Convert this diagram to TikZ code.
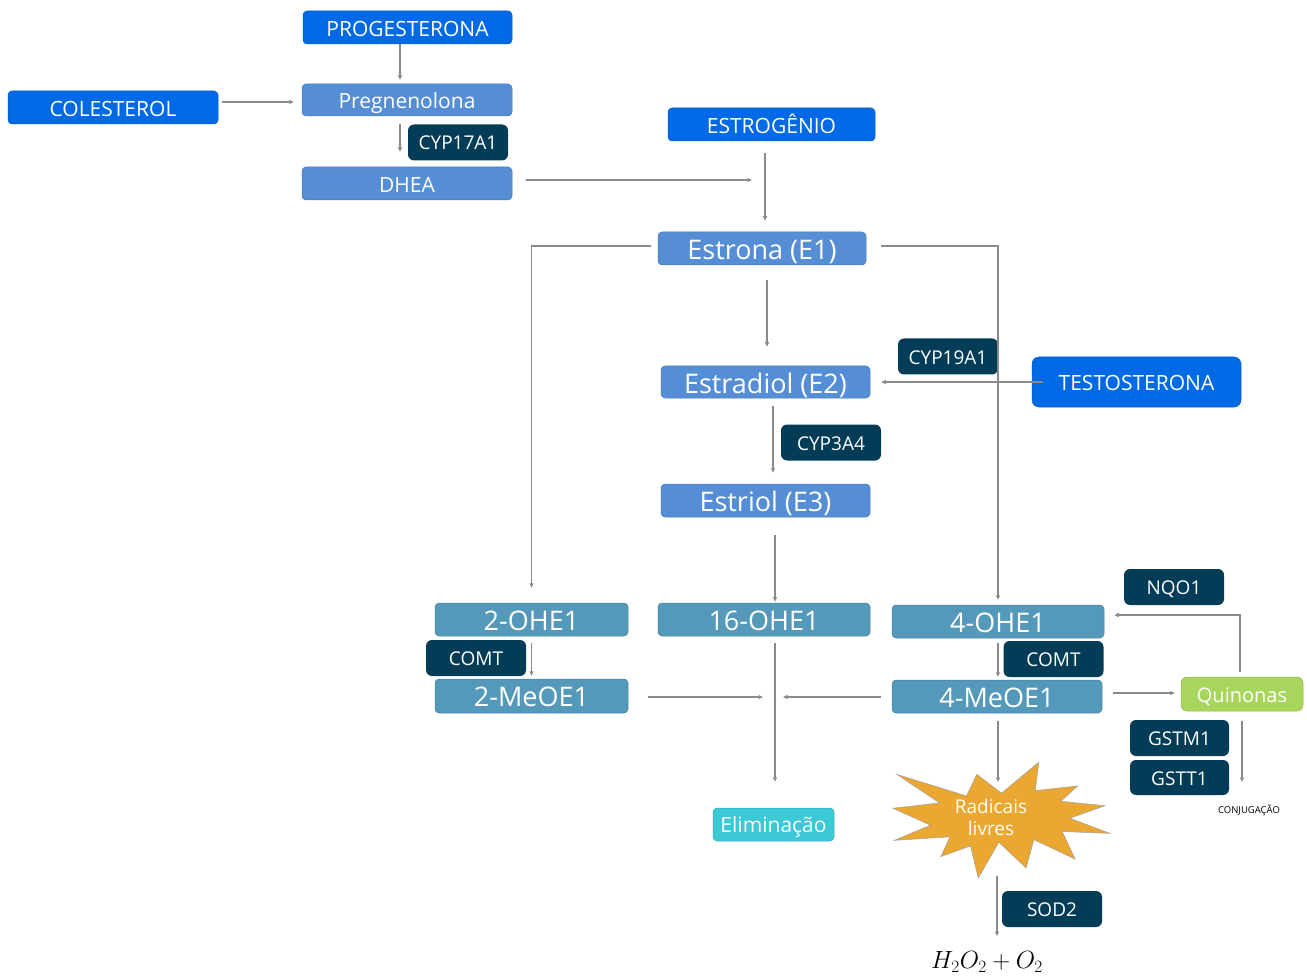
\documentclass[tikz,border=0pt]{standalone}
\usepackage{fontspec}
\setmainfont{Open Sans}
\usetikzlibrary{calc,arrows.meta}
\definecolor{cbright}{RGB}{0,106,230}
\definecolor{cmid}{RGB}{85,142,213}
\definecolor{cteal}{RGB}{84,153,186}
\definecolor{cdark}{RGB}{2,60,86}
\definecolor{celim}{RGB}{60,200,212}
\definecolor{cquin}{RGB}{168,214,92}
\definecolor{cstar}{RGB}{234,167,50}
\definecolor{carrow}{RGB}{138,138,138}
\tikzset{
  box/.style={inner sep=0pt, text=white, rounded corners=4pt, align=center, text depth=0pt},
  bright/.style={box, fill=cbright, draw=cbright!85!black, line width=0.5pt, font=\fontsize{21}{24}\selectfont, text height=17.5pt},
  mid/.style={box, fill=cmid, draw=cmid!85!black, line width=0.5pt, font=\fontsize{21}{24}\selectfont, text height=17.5pt},
  midbig/.style={mid, font=\fontsize{27}{30}\selectfont, text height=22.5pt},
  teal/.style={box, fill=cteal, draw=cteal!85!black, line width=0.5pt, font=\fontsize{27}{30}\selectfont, text height=21pt},
  enz/.style={box, fill=cdark, rounded corners=6pt, font=\fontsize{19}{22}\selectfont, text height=15pt, minimum width=100pt, minimum height=36pt},
  elimbox/.style={box, fill=celim, draw=celim!85!black, line width=0.5pt, font=\fontsize{21}{24}\selectfont, text height=16pt},
  quinbox/.style={box, fill=cquin, draw=cquin!85!black, line width=0.5pt, rounded corners=6pt, font=\fontsize{20}{23}\selectfont, text height=16pt},
  arr/.style={draw=carrow, line width=1.2pt, -{Triangle[length=4.5pt,width=4pt]}},
}
\begin{document}
\begin{tikzpicture}[x=1pt,y=-1pt]
\useasboundingbox (0,0) rectangle (1307,976);
% top
\node[bright, minimum width=209pt, minimum height=33pt] (prog) at (407.5,27.5) {PROGESTERONA};
\node[bright, minimum width=210pt, minimum height=33pt] (chol) at (113,107.5) {COLESTEROL};
\node[mid, minimum width=210pt, minimum height=32pt] (preg) at (407,100) {Pregnenolona};
\node[enz] (cyp17) at (458,142.5) {CYP17A1};
\node[mid, minimum width=210pt, minimum height=33pt] (dhea) at (407,183.5) {DHEA};
\node[bright, minimum width=207pt, minimum height=33pt] (estg) at (771.5,124.5) {ESTROGÊNIO};
% estrogens
\node[midbig, minimum width=208pt, minimum height=33pt] (e1) at (762,248.5) {Estrona (E1)};
\node[midbig, minimum width=209pt, minimum height=32pt] (e2) at (765.5,382) {Estradiol (E2)};
\node[enz] (cyp19) at (948,356.5) {CYP19A1};
\node[bright, rounded corners=7pt, minimum width=209pt, minimum height=50pt] (testo) at (1136.5,382) {TESTOSTERONA};
\node[enz] (cyp3a4) at (831,442.5) {CYP3A4};
\node[midbig, minimum width=209pt, minimum height=33pt] (e3) at (765.5,500.5) {Estriol (E3)};
% metabolites
\node[teal, minimum width=193pt, minimum height=33pt] (ohe2) at (531.5,619.5) {2-OHE1};
\node[teal, minimum width=212pt, minimum height=33pt] (ohe16) at (764,619.5) {16-OHE1};
\node[teal, minimum width=212pt, minimum height=33pt] (ohe4) at (998,621.5) {4-OHE1};
\node[enz] (comtl) at (476,658) {COMT};
\node[teal, minimum width=193pt, minimum height=34pt] (meo2) at (531.5,696) {2-MeOE1};
\node[enz] (comtr) at (1053.5,659) {COMT};
\node[teal, minimum width=210pt, minimum height=33pt] (meo4) at (997,696.5) {4-MeOE1};
\node[enz] (nqo1) at (1174,587) {NQO1};
\node[quinbox, minimum width=122pt, minimum height=34pt] (quin) at (1242,694) {Quinonas};
\node[enz, minimum width=99pt] (gstm1) at (1179.5,738) {GSTM1};
\node[enz, minimum width=99pt, minimum height=35pt] (gstt1) at (1179.5,777.5) {GSTT1};
\node[inner sep=0pt, font=\fontsize{9.5}{11}\selectfont] (conj) at (1249,810) {CONJUGAÇÃO};
\node[elimbox, minimum width=121pt, minimum height=33pt] (elim) at (773.5,824.5) {Eliminação};
% star
\begin{scope}[shift={(893,762)}, x=0.100463pt, y=-0.053704pt]
\filldraw[fill=cstar, draw=carrow!80, line width=0.5pt]
 (1080,580) -- (1452.2,0) -- (1415.5,532.5) -- (1838,445.7) -- (1670.2,731.5) -- (2109.7,813.7) -- (1760.7,1047.5) -- (2160,1329) -- (1683.7,1294.2) -- (1814.5,1809.5) -- (1402,1445.7) -- (1324.7,1973.7) -- (1053.2,1493.5) -- (848.5,2160) -- (771.5,1562.7) -- (476.2,1761.7) -- (566.7,1393.7) -- (13.5,1458.7) -- (372.2,1177.5) -- (0,861.5) -- (462.7,761.7) -- (37,229.5) -- (731.2,632) -- (835.2,229.5) -- cycle;
\end{scope}
\node[inner sep=0pt, text=white!95!yellow, align=center, font=\fontsize{19}{22}\selectfont] (rad) at (991,817) {Radicais\\livres};
\node[enz] (sod2) at (1052,909) {SOD2};
\node[inner sep=0pt, font=\fontsize{24}{26}\selectfont] (h2o2) at (987,962) {$H_2O_2+O_2$};
% free-end coordinates
\coordinate (c4) at (752,180);
\coordinate (c13) at (763,697);
\coordinate (c14) at (783,697);
% arrows
\draw[arr] ($(prog.south)+(-7.5,0)$) -- ($(preg.north)+(-7,-4)$);
\draw[arr] ($(chol.east)+(4,-5.5)$) -- ($(preg.west)+(-8,2)$);
\draw[arr] ($(preg.south)+(-7,8)$) -- ($(dhea.north)+(-7,-15)$);
\draw[arr] ($(dhea.east)+(14,-3.5)$) -- (c4);
\draw[arr] ($(estg.south)+(-6.5,12)$) -- ($(e1.north)+(3,-11)$);
\draw[arr] ($(e1.west)+(-7,-2.5)$) -| ($(ohe2.north)+(0,-15)$);
\draw[arr] ($(e1.east)+(15,-2.5)$) -| ($(ohe4.north)+(0,-5)$);
\draw[arr] ($(e1.south)+(5,15)$) -- ($(e2.north)+(1.5,-19)$);
\draw[arr] ($(testo.west)+(11,0)$) -- ($(e2.east)+(11,0)$);
\draw[arr] ($(e2.south)+(7.5,8)$) -- ($(e3.north)+(7.5,-11)$);
\draw[arr] ($(e3.south)+(9.5,18)$) -- ($(ohe16.north)+(11,-1)$);
\draw[arr] ($(ohe16.south)+(11,7)$) -- ($(elim.north)+(1.5,-26)$);
\draw[arr] ($(meo2.east)+(20,1)$) -- (c13);
\draw[arr] ($(meo4.west)+(-11,0.5)$) -- (c14);
\draw[arr] ($(ohe2.south)+(0,7)$) -- ($(meo2.north)+(0,-3)$);
\draw[arr] ($(ohe4.south)+(0,5)$) -- ($(meo4.north)+(1,-3)$);
\draw[arr] ($(meo4.east)+(11,-3.5)$) -- ($(quin.west)+(-6,-1)$);
\draw[arr] ($(quin.north)+(-2,-5)$) |- ($(ohe4.east)+(10,-6.5)$);
\draw[arr] ($(quin.south)+(0,10)$) -- ($(conj)+(-7,-28)$);
\draw[arr] ($(meo4.south)+(1,8)$) -- ($(rad)+(7,-35)$);
\draw[arr] ($(rad)+(6,59)$) -- ($(h2o2)+(10,-26)$);
\end{tikzpicture}
\end{document}
